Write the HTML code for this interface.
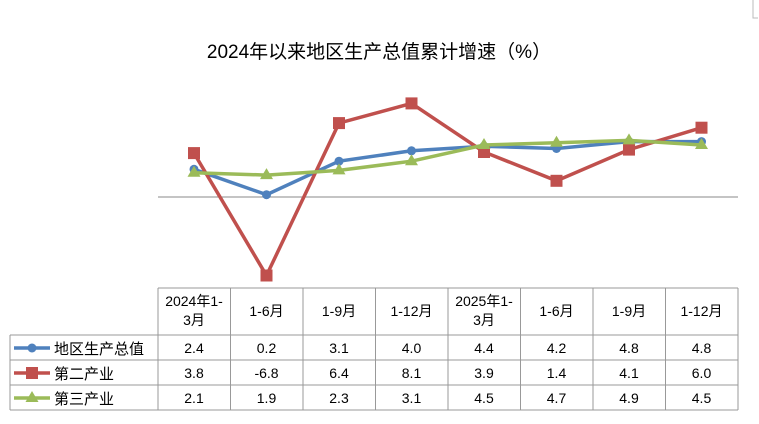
<!DOCTYPE html>
<html><head><meta charset="utf-8"><style>
body{margin:0;background:#fff;}
svg text{font-family:"Liberation Sans","Noto Sans CJK SC",sans-serif;}
</style></head><body>
<svg width="759" height="419" xmlns="http://www.w3.org/2000/svg">
<rect width="759" height="419" fill="#fff"/>
<path d="M753 0V18H758" stroke="#bbb" fill="none"/>
<text x="379" y="58" font-size="19" text-anchor="middle" fill="#000">2024年以来地区生产总值累计增速（%）</text>
<line x1="158" y1="197" x2="738" y2="197" stroke="#888" stroke-width="1"/>
<g stroke="#999" stroke-width="1" fill="none">
<line x1="158" y1="288" x2="738" y2="288"/>
<line x1="10" y1="335" x2="738" y2="335"/>
<line x1="10" y1="360" x2="738" y2="360"/>
<line x1="10" y1="385" x2="738" y2="385"/>
<line x1="10" y1="410" x2="738" y2="410"/>
<line x1="10" y1="335" x2="10" y2="410"/>
<line x1="158" y1="288" x2="158" y2="410"/>
<line x1="230.5" y1="288" x2="230.5" y2="410"/>
<line x1="303" y1="288" x2="303" y2="410"/>
<line x1="375.5" y1="288" x2="375.5" y2="410"/>
<line x1="448" y1="288" x2="448" y2="410"/>
<line x1="520.5" y1="288" x2="520.5" y2="410"/>
<line x1="593" y1="288" x2="593" y2="410"/>
<line x1="665.5" y1="288" x2="665.5" y2="410"/>
<line x1="738" y1="288" x2="738" y2="410"/>
</g>
<!-- series: x=194+72.5i, y=197-11.55v -->
<polyline fill="none" stroke="#4f81bd" stroke-width="3.5" points="194,169.3 266.5,194.7 339,161.2 411.5,150.8 484,146.2 556.5,148.5 629,141.6 701.5,141.6"/>
<g fill="#4f81bd"><circle cx="194" cy="169.3" r="4.5"/><circle cx="266.5" cy="194.7" r="4.5"/><circle cx="339" cy="161.2" r="4.5"/><circle cx="411.5" cy="150.8" r="4.5"/><circle cx="484" cy="146.2" r="4.5"/><circle cx="556.5" cy="148.5" r="4.5"/><circle cx="629" cy="141.6" r="4.5"/><circle cx="701.5" cy="141.6" r="4.5"/></g>
<polyline fill="none" stroke="#c0504d" stroke-width="3.5" points="194,153.1 266.5,275.5 339,123.1 411.5,103.4 484,152 556.5,180.8 629,149.6 701.5,127.7"/>
<g fill="#c0504d"><rect x="188" y="147.1" width="12" height="12"/><rect x="260.5" y="269.5" width="12" height="12"/><rect x="333" y="117.1" width="12" height="12"/><rect x="405.5" y="97.4" width="12" height="12"/><rect x="478" y="146" width="12" height="12"/><rect x="550.5" y="174.8" width="12" height="12"/><rect x="623" y="143.6" width="12" height="12"/><rect x="695.5" y="121.7" width="12" height="12"/></g>
<polyline fill="none" stroke="#9bbb59" stroke-width="3.5" points="194,172.7 266.5,175.1 339,170.4 411.5,161.2 484,145 556.5,142.7 629,140.4 701.5,145"/>
<g fill="#9bbb59"><path d="M194,165.7l6.5,11h-13z"/><path d="M266.5,168.1l6.5,11h-13z"/><path d="M339,163.4l6.5,11h-13z"/><path d="M411.5,154.2l6.5,11h-13z"/><path d="M484,138l6.5,11h-13z"/><path d="M556.5,135.7l6.5,11h-13z"/><path d="M629,133.4l6.5,11h-13z"/><path d="M701.5,138l6.5,11h-13z"/></g>
<g font-size="14" text-anchor="middle" fill="#000">
<text x="194" y="306">2024年1-</text><text x="194" y="325">3月</text>
<text x="266.5" y="316">1-6月</text><text x="339" y="316">1-9月</text><text x="411.5" y="316">1-12月</text>
<text x="484" y="306">2025年1-</text><text x="484" y="325">3月</text>
<text x="556.5" y="316">1-6月</text><text x="629" y="316">1-9月</text><text x="701.5" y="316">1-12月</text>
<text x="194" y="353">2.4</text><text x="266.5" y="353">0.2</text><text x="339" y="353">3.1</text><text x="411.5" y="353">4.0</text><text x="484" y="353">4.4</text><text x="556.5" y="353">4.2</text><text x="629" y="353">4.8</text><text x="701.5" y="353">4.8</text>
<text x="194" y="378">3.8</text><text x="266.5" y="378">-6.8</text><text x="339" y="378">6.4</text><text x="411.5" y="378">8.1</text><text x="484" y="378">3.9</text><text x="556.5" y="378">1.4</text><text x="629" y="378">4.1</text><text x="701.5" y="378">6.0</text>
<text x="194" y="403">2.1</text><text x="266.5" y="403">1.9</text><text x="339" y="403">2.3</text><text x="411.5" y="403">3.1</text><text x="484" y="403">4.5</text><text x="556.5" y="403">4.7</text><text x="629" y="403">4.9</text><text x="701.5" y="403">4.5</text>
</g>
<line x1="14" y1="348" x2="50" y2="348" stroke="#4f81bd" stroke-width="3.5"/><circle cx="32" cy="348" r="4.5" fill="#4f81bd"/>
<line x1="14" y1="373" x2="50" y2="373" stroke="#c0504d" stroke-width="3.5"/><rect x="26" y="367" width="12" height="12" fill="#c0504d"/>
<line x1="14" y1="398" x2="50" y2="398" stroke="#9bbb59" stroke-width="3.5"/><path d="M32,391l6.5,11h-13z" fill="#9bbb59"/>
<g font-size="15" fill="#000">
<text x="54" y="354">地区生产总值</text><text x="54" y="379">第二产业</text><text x="54" y="404">第三产业</text>
</g>
</svg>
</body></html>
